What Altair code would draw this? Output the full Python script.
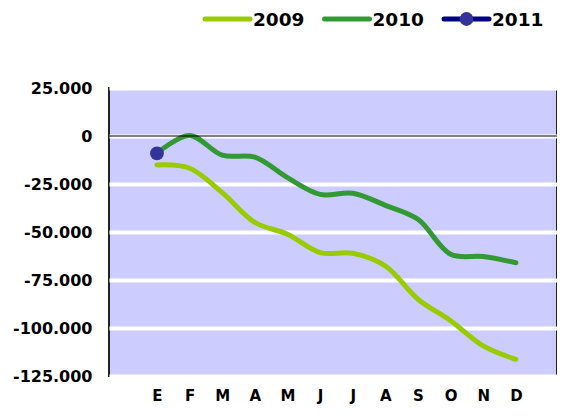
import altair as alt
import pandas as pd

months = ["E", "F", "M", "A", "M", "J", "J", "A", "S", "O", "N", "D"]
series_names = ["2009", "2010", "2011"]
colors = ["#99cc00", "#339933", "#000080"]
v2009 = [-15100, -16800, -29500, -45000, -51200, -60700, -61100, -67700, -85000, -96200, -109300, -116300]
v2010 = [-9000, 300, -10000, -11000, -21700, -30400, -29800, -36100, -43400, -61600, -62800, -66000]
v2011 = [-9000]
y_ticks = [25000, 0, -25000, -50000, -75000, -100000, -125000]

rows = []
for name, vals in zip(series_names, [v2009, v2010, v2011]):
    for i, v in enumerate(vals):
        rows.append({"series": name, "idx": i, "value": v})
df = pd.DataFrame(rows)

FONT = "DejaVu Sans"
label_expr = "[" + ",".join("'%s'" % m for m in months) + "][datum.value]"
pad_l, pad_r = 1.47, 1.26

color = alt.Color("series:N", scale=alt.Scale(domain=series_names, range=colors), legend=None)

x_enc = alt.X("idx:Q", scale=alt.Scale(domain=[-pad_l, len(months) - 1 + pad_r], nice=False, zero=False),
              axis=alt.Axis(title=None, values=list(range(len(months))), labelExpr=label_expr,
                            labelAngle=0, domain=False, ticks=False, grid=False,
                            labelFont=FONT, labelFontWeight="bold", labelFontSize=15,
                            labelPadding=12, labelColor="black", labelFlush=False))
y_enc = alt.Y("value:Q", scale=alt.Scale(domain=[-125000, 25000], nice=False),
              axis=alt.Axis(title=None, values=y_ticks, domain=False, ticks=False, grid=True,
                            labelExpr="replace(replace(format(datum.value, ','), ',', '.'), '\u2212', '-')",
                            labelFont=FONT, labelFontWeight="bold", labelFontSize=16, labelPadding=17,
                            labelColor="black", gridColor="white", gridWidth=4, gridOpacity=1))

lines = alt.Chart(df).transform_filter("datum.series != '2011'").mark_line(
    interpolate="catmull-rom", strokeWidth=5, strokeCap="round").encode(
    x=x_enc, y=y_enc, color=color, detail="series:N")

pts = alt.Chart(df).transform_filter("datum.series == '2011'").mark_point(
    filled=True, size=190, opacity=1, color="#333399").encode(x=x_enc, y=y_enc)

zero = alt.Chart(df).transform_filter("datum.idx == 0 && datum.series == '2009'").mark_rule(
    color="black", strokeWidth=1).encode(y=alt.datum(0))

main = alt.layer(lines, zero, pts)

# legend
leg = pd.DataFrame({"series": series_names, "i": list(range(len(series_names)))})
leg_base = alt.Chart(leg).transform_calculate(
    x0="96 + datum.i * 119.5", x1="96 + datum.i * 119.5 + 45",
    xc="96 + datum.i * 119.5 + 22.5", xt="96 + datum.i * 119.5 + 48")
leg_lines = leg_base.mark_rule(strokeWidth=5, strokeCap="round").encode(
    x=alt.X("x0:Q", scale=None, axis=None), x2="x1:Q", y=alt.value(-69), color=color)
leg_pt = leg_base.transform_filter("datum.series == '2011'").mark_point(
    filled=True, size=190, opacity=1, color="#333399").encode(
    x=alt.X("xc:Q", scale=None, axis=None), y=alt.value(-69))
leg_text = leg_base.mark_text(align="left", baseline="middle", font=FONT, fontWeight="bold",
                              fontSize=18.5, color="black").encode(
    x=alt.X("xt:Q", scale=None, axis=None), y=alt.value(-68), text="series:N")

chart = alt.layer(main, leg_lines, leg_pt, leg_text).resolve_scale(x="independent").properties(
    width=448, height=288,
    autosize=alt.AutoSizeParams(type="none"),
    padding={"left": 101, "top": 80, "right": 0, "bottom": 32},
).configure_view(fill="#ccccff", stroke="#222222", strokeWidth=2)

chart.save("out.html", embed_options={"renderer": "svg", "actions": False})
